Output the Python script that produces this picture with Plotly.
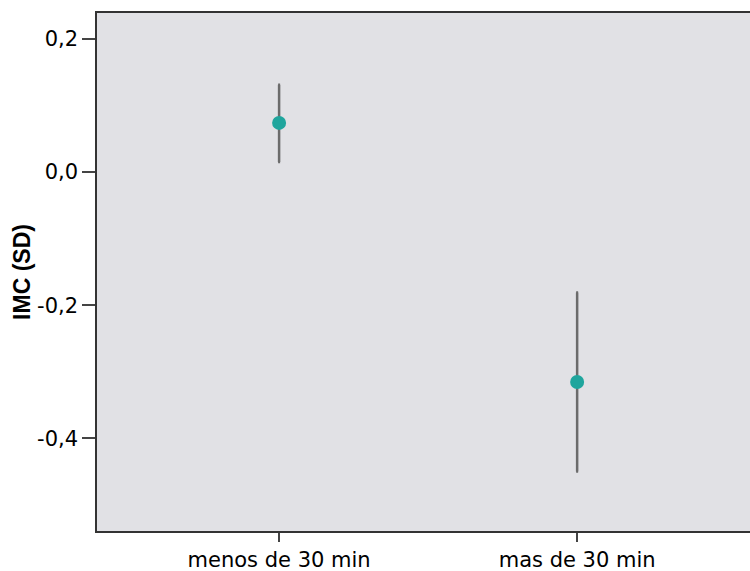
import plotly.graph_objects as go

# Group means of BMI z-score with 95% CI limits
categories = ["menos de 30 min", "mas de 30 min"]
means = [0.0736, -0.3153]
ci_upper = [0.131, -0.1808]
ci_lower = [0.015, -0.4495]

err_plus = [u - m for u, m in zip(ci_upper, means)]
err_minus = [m - l for m, l in zip(means, ci_lower)]

tick_vals = [0.2, 0.0, -0.2, -0.4]
tick_text = ["0,2", "0,0", "-0,2", "-0,4"]

fig = go.Figure()
fig.add_trace(go.Scatter(
    x=[0, 1],
    y=means,
    mode="markers",
    marker=dict(color="#1fa59d", size=14, line=dict(width=0)),
    error_y=dict(
        type="data",
        symmetric=False,
        array=err_plus,
        arrayminus=err_minus,
        color="#6b6b6b",
        thickness=2.5,
        width=1,
    ),
    showlegend=False,
))

tick_font = dict(family="DejaVu Sans, Arial, sans-serif", size=21, color="black")

fig.update_layout(
    width=750,
    height=571,
    margin=dict(l=97, r=0, t=13, b=40),
    paper_bgcolor="white",
    plot_bgcolor="#e1e1e5",
    font=tick_font,
    xaxis=dict(
        range=[-0.611, 1.58],
        tickvals=[0, 1],
        ticktext=categories,
        ticks="outside",
        ticklen=9,
        tickwidth=1.5,
        tickcolor="#444",
        showline=True,
        linecolor="#333",
        linewidth=1.5,
        mirror=True,
        showgrid=False,
        zeroline=False,
        automargin=False,
        tickfont=tick_font,
    ),
    yaxis=dict(
        range=[-0.539, 0.2386],
        tickvals=tick_vals,
        ticktext=tick_text,
        ticks="outside",
        ticklen=13,
        tickwidth=1.5,
        tickcolor="#444",
        showline=True,
        linecolor="#333",
        linewidth=1.5,
        showgrid=False,
        zeroline=False,
        automargin=False,
        tickfont=tick_font,
        title=dict(
            text="<b>IMC (SD)</b>",
            font=dict(family="Liberation Sans, Arial, sans-serif", size=23, color="black"),
            standoff=0,
        ),
    ),
)

fig.write_html("out.html")
